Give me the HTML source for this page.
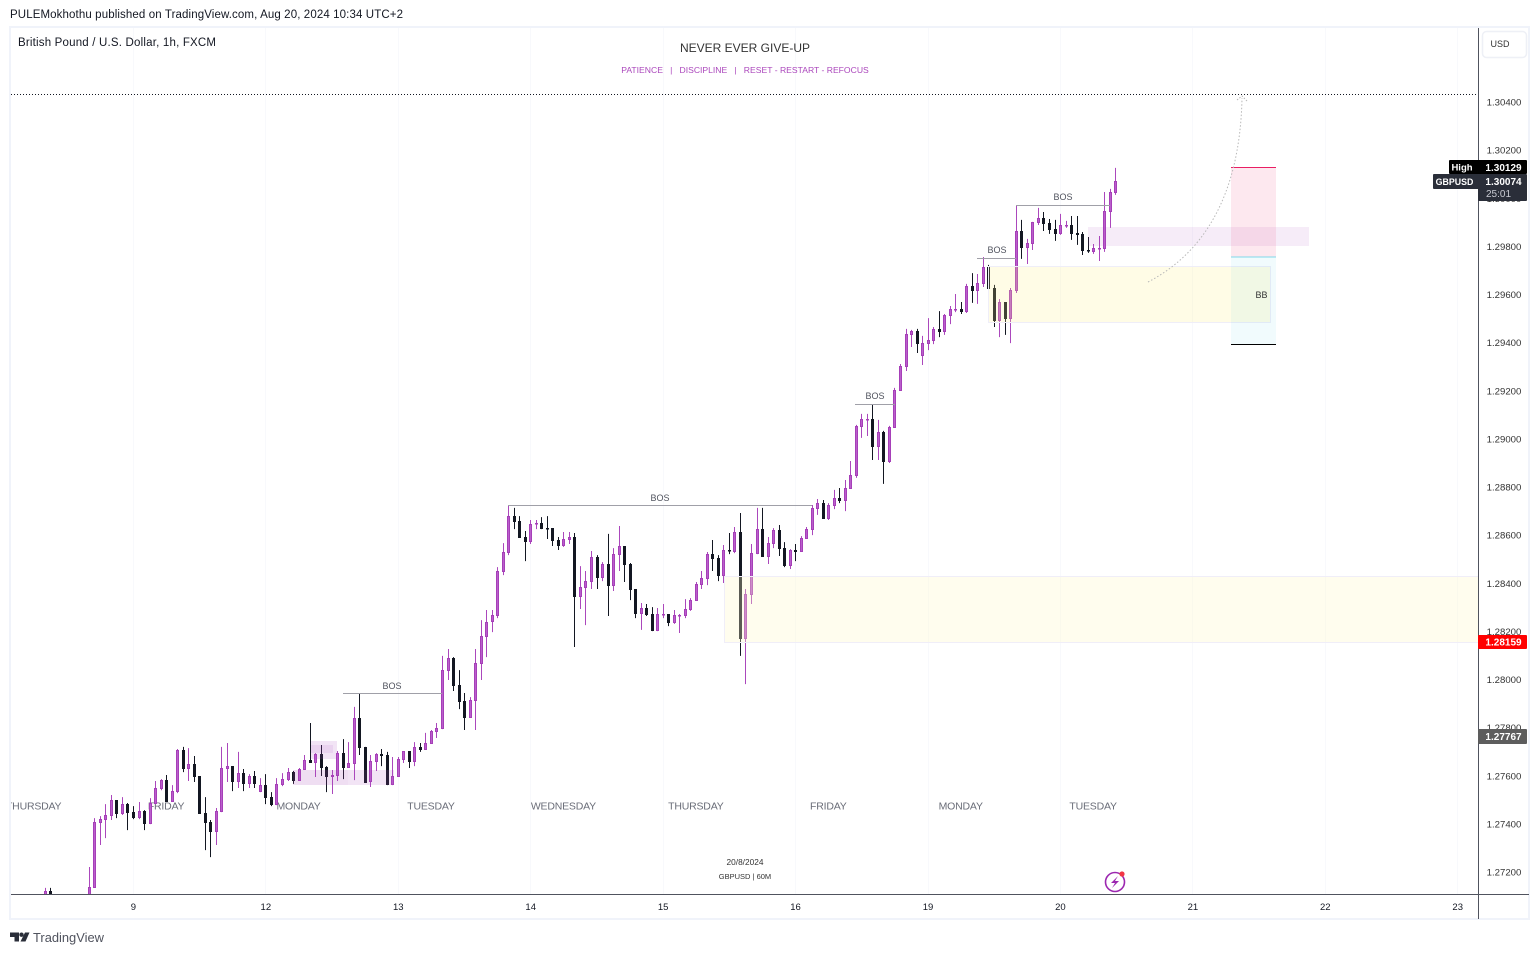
<!DOCTYPE html>
<html lang="en">
<head>
<meta charset="utf-8">
<title>GBPUSD 1h chart</title>
<style>
html,body{margin:0;padding:0;background:#fff;width:1540px;height:955px;overflow:hidden}
svg{display:block;font-family:"Liberation Sans",sans-serif}
</style>
</head>
<body>
<svg id="chart" xmlns="http://www.w3.org/2000/svg" width="1540" height="955" viewBox="0 0 1540 955">
  <defs><clipPath id="pane-clip"><rect x="11" y="28" width="1467" height="866"/></clipPath></defs>
  <text x="10" y="18" font-size="11.5" fill="#131722" textLength="393" lengthAdjust="spacing">PULEMokhothu published on TradingView.com, Aug 20, 2024 10:34 UTC+2</text>
  <rect x="10" y="27" width="1519" height="892" fill="#fff" stroke="#f0f3fa" stroke-width="2"/>
  <g id="grid"></g>
  <g id="weekdays" clip-path="url(#pane-clip)"></g>
  <g id="candles" clip-path="url(#pane-clip)"></g>

  <g clip-path="url(#pane-clip)">
    <rect x="724.5" y="576.5" width="760" height="66" fill="rgba(255,248,200,.3)" stroke="#f0eef8"/>
    <rect x="988.5" y="266.5" width="282" height="56" fill="rgba(255,240,130,.2)" stroke="#efeef8"/>
    <rect x="1088" y="227" width="221" height="19" fill="rgba(171,71,188,.1)"/>
    <rect x="293" y="770" width="101" height="15" fill="rgba(171,71,188,.15)"/>
    <rect x="293" y="770" width="55" height="15" fill="rgba(171,71,188,.04)"/>
    <rect x="311" y="741" width="26" height="18" fill="rgba(171,71,188,.15)"/>
    <rect x="311" y="745" width="22" height="8" fill="rgba(171,71,188,.1)"/>
    <rect x="1231" y="167" width="45" height="90" fill="rgba(233,30,99,.1)"/>
    <rect x="1231" y="257" width="45" height="87" fill="rgba(0,188,212,.055)"/>
    <line x1="1231" x2="1276" y1="167.5" y2="167.5" stroke="#e91e63"/>
    <line x1="1231" x2="1276" y1="257" y2="257" stroke="#80d8ea"/>
    <line x1="1231" x2="1276" y1="344.5" y2="344.5" stroke="#000"/>
    <text x="1261.500" y="298" font-size="9" text-anchor="middle" fill="#333">BB</text>

    <path d="M1148 282C1200 255 1240 200 1242 98" fill="none" stroke="#b8b8b8" stroke-width="1" stroke-dasharray="1.5 2"/>
    <path d="M1237 100L1242 96L1247 101" fill="none" stroke="#b8b8b8" stroke-width="1" stroke-dasharray="1.5 1.5"/>

    <line x1="11" x2="1478" y1="94.5" y2="94.5" stroke="#131722" stroke-dasharray="1 2"/>

    <line x1="343" x2="442" y1="693.5" y2="693.5" stroke="#a0a0a8"/>
    <text x="392" y="689" font-size="9" text-anchor="middle" fill="#50535e">BOS</text>
    <line x1="508" x2="812" y1="505.5" y2="505.5" stroke="#a0a0a8"/>
    <text x="660" y="501" font-size="9" text-anchor="middle" fill="#50535e">BOS</text>
    <line x1="855" x2="895" y1="404.5" y2="404.5" stroke="#a0a0a8"/>
    <text x="875" y="399" font-size="9" text-anchor="middle" fill="#50535e">BOS</text>
    <line x1="977" x2="1016" y1="258.5" y2="258.5" stroke="#a0a0a8"/>
    <text x="997" y="253" font-size="9" text-anchor="middle" fill="#50535e">BOS</text>
    <line x1="1016" x2="1110" y1="205.5" y2="205.5" stroke="#a0a0a8"/>
    <text x="1063" y="200" font-size="9" text-anchor="middle" fill="#50535e">BOS</text>
  </g>

  <text x="18" y="46" font-size="11.5" fill="#131722" textLength="198" lengthAdjust="spacing">British Pound / U.S. Dollar, 1h, FXCM</text>
  <text x="745" y="52" font-size="12" text-anchor="middle" fill="#333">NEVER EVER GIVE-UP</text>
  <text x="745" y="73" font-size="8.6" text-anchor="middle" fill="#ab47bc" xml:space="preserve">PATIENCE   |   DISCIPLINE   |   RESET - RESTART - REFOCUS</text>
  <text x="745" y="865" font-size="8.3" text-anchor="middle" fill="#333">20/8/2024</text>
  <text x="745" y="879" font-size="7.5" text-anchor="middle" fill="#333">GBPUSD | 60M</text>

  <g>
    <circle cx="1115" cy="882" r="9.5" fill="#fff" stroke="#9c27b0" stroke-width="1.6"/>
    <path d="M1118 876L1111 883H1115L1112 888L1119 881H1115Z" fill="#9c27b0"/>
    <circle cx="1122" cy="874" r="2.6" fill="#f23645"/>
  </g>

  <line x1="11" x2="1529" y1="894.5" y2="894.5" stroke="#50535e"/>
  <line x1="1478.5" x2="1478.5" y1="28" y2="919" stroke="#50535e"/>
  <g id="day-ticks"></g>
  <g id="price-ticks"></g>

  <rect x="1482.5" y="31.5" width="44" height="26" rx="4" fill="#fff" stroke="#eef0f6" stroke-width="1.5"/>
  <text x="1500" y="47" font-size="9" text-anchor="middle" fill="#333">USD</text>

  <rect x="1449" y="160" width="78" height="14" rx="1" fill="#000"/>
  <text x="1462" y="170.5" font-size="9.5" font-weight="bold" text-anchor="middle" fill="#fff">High</text>
  <text x="1503.500" y="171" font-size="10" font-weight="bold" text-anchor="middle" fill="#fff">1.30129</text>
  <rect x="1433" y="174" width="46" height="15" rx="1" fill="#2a2e39"/>
  <rect x="1478" y="174" width="49" height="27" rx="1" fill="#2a2e39"/>
  <text x="1454.500" y="185" font-size="8.8" font-weight="bold" text-anchor="middle" fill="#fff">GBPUSD</text>
  <text x="1503.500" y="185" font-size="10" font-weight="bold" text-anchor="middle" fill="#fff">1.30074</text>
  <text x="1498.500" y="197" font-size="10" text-anchor="middle" fill="#c8cad2">25:01</text>
  <rect x="1478" y="635" width="49" height="14" rx="1" fill="#ff0000"/>
  <text x="1503.500" y="645.5" font-size="10" font-weight="bold" text-anchor="middle" fill="#fff">1.28159</text>
  <rect x="1478" y="729" width="49" height="15" rx="1" fill="#5d5d5d"/>
  <text x="1503.500" y="740" font-size="10" font-weight="bold" text-anchor="middle" fill="#fff">1.27767</text>

  <g>
    <path d="M10 932.500h9v9h-4.500v-4.500H10z" fill="#2a2e39"/>
    <circle cx="21.500" cy="934.700" r="2.200" fill="#2a2e39"/>
    <path d="M25 932.500h4.500l-4 9H20.500z" fill="#2a2e39"/>
    <text x="33" y="942" font-size="12.900" fill="#50535e">TradingView</text>
  </g>
</svg>

<script>
// The first candle is 16 hours before the "9" day tick; candles are hourly.
const firstHour = -16;
const pointSize = 0.00001;
const opens = [
127083,127121,127083,127060,127050,127065,127055,127065,127083,127134,127403,127416,127432,127499,127441,127482,
127449,127424,127453,127399,127482,127545,127582,127491,127532,127707,
127628,127649,127599,127445,127407,127366,127449,127628,127640,127574,
127611,127566,127599,127532,127561,127511,127478,127561,127582,127615,
127578,127624,127665,127653,127690,127636,127595,127599,127694,127632,
127649,127840,127720,127574,127657,127690,127686,127561,127595,127665,
127703,127657,127720,127707,127732,127782,127794,128035,128089,127977,
127911,127840,127911,128064,128176,128239,128264,128447,128525,128679,
128659,128592,128571,128646,128650,128629,128629,128580,128555,128580,
128592,128342,128380,128405,128509,128422,128480,128388,128517,128555,
128480,128376,128272,128297,128272,128201,128268,128272,128235,128264,
128264,128289,128326,128392,128417,128521,128505,128430,128538,128530,
128613,128168,128351,128521,128625,128509,128563,128621,128546,128471,
128538,128530,128584,128621,128708,128733,128667,128721,128754,128742,
128792,128846,129050,129079,129083,128966,129029,128904,129046,129199,
129299,129432,129449,129344,129394,129407,129457,129444,129511,129536,
129540,129527,129635,129615,129644,129714,129627,129490,129569,129498,
129615,129864,129794,129810,129897,129918,129897,129872,129852,129885,
129889,129856,129852,129785,129777,129789,129789,129943,130022];
const highs = [
127134,127134,127090,127075,127070,127080,127070,127085,127221,127424,127432,127482,127520,127499,127511,127487,
127474,127491,127457,127507,127578,127586,127603,127561,127711,127720,
127715,127682,127599,127511,127416,127466,127720,127736,127640,127699,
127628,127607,127620,127590,127607,127532,127590,127611,127632,127620,
127632,127686,127819,127694,127728,127640,127624,127703,127752,127740,
127886,127940,127720,127686,127694,127711,127699,127678,127678,127703,
127703,127740,127736,127778,127790,127819,128098,128127,128093,128039,
127944,127927,128127,128247,128289,128289,128467,128567,128725,128713,
128679,128617,128663,128663,128675,128679,128629,128592,128613,128613,
128609,128471,128451,128534,128517,128488,128605,128546,128638,128555,
128484,128376,128318,128314,128301,128297,128314,128272,128289,128272,
128334,128338,128405,128451,128530,128580,128517,128559,128609,128634,
128692,128376,128563,128713,128713,128592,128629,128642,128571,128542,
128563,128596,128634,128725,128750,128746,128733,128788,128796,128829,
128908,129058,129104,129104,129141,129079,129033,129054,129212,129311,
129457,129453,129457,129428,129502,129465,129531,129519,129552,129602,
129569,129644,129689,129685,129756,129723,129640,129581,129569,129627,
129972,129910,129831,129902,129960,129943,129914,129910,129935,129906,
129926,129926,129860,129839,129810,129843,130026,130039,130126];
const lows = [
127041,127062,127050,127040,127030,127040,127035,127050,127062,127134,127312,127341,127416,127424,127437,127374,
127420,127420,127374,127399,127482,127540,127491,127491,127528,127615,
127578,127574,127441,127291,127262,127312,127449,127574,127536,127549,
127536,127549,127549,127532,127482,127474,127478,127557,127578,127566,
127578,127624,127653,127595,127599,127532,127524,127578,127586,127632,
127582,127686,127570,127553,127620,127640,127561,127561,127595,127653,
127632,127640,127699,127707,127732,127757,127794,127998,127952,127877,
127790,127840,127790,127998,128093,128197,128255,128434,128517,128625,
128588,128492,128563,128625,128625,128584,128555,128538,128551,128563,
128135,128293,128226,128376,128376,128409,128264,128368,128451,128405,
128330,128255,128206,128264,128201,128201,128255,128222,128231,128193,
128255,128285,128326,128376,128392,128451,128409,128401,128521,128525,
128098,127981,128314,128521,128509,128480,128546,128513,128467,128459,
128492,128530,128584,128600,128684,128667,128663,128708,128733,128700,
128792,128838,129004,129012,128912,128912,128813,128900,129046,129199,
129282,129382,129357,129307,129369,129394,129423,129432,129477,129527,
129519,129523,129565,129561,129631,129602,129465,129423,129432,129398,
129606,129748,129727,129785,129889,129864,129852,129823,129848,129877,
129827,129806,129764,129773,129769,129739,129777,129877,130014];
const closes = [
127121,127083,127060,127050,127065,127055,127065,127080,127138,127407,127420,127437,127499,127441,127482,127445,
127424,127453,127399,127487,127549,127582,127491,127536,127707,127628,
127649,127595,127441,127403,127366,127453,127632,127640,127574,127611,
127566,127599,127566,127561,127507,127478,127566,127586,127615,127578,
127628,127665,127653,127690,127632,127595,127603,127694,127632,127653,
127840,127715,127570,127661,127690,127682,127561,127599,127669,127703,
127657,127720,127707,127736,127786,127798,128039,128089,127973,127906,
127840,127915,128069,128180,128239,128268,128451,128530,128679,128654,
128588,128571,128646,128650,128625,128625,128576,128555,128584,128592,
128342,128384,128409,128509,128422,128480,128388,128521,128555,128476,
128372,128272,128297,128268,128201,128272,128272,128235,128268,128268,
128293,128330,128397,128422,128521,128500,128430,128538,128534,128613,
128168,128355,128525,128625,128509,128567,128621,128542,128471,128538,
128530,128588,128625,128713,128733,128667,128725,128754,128742,128796,
128850,129054,129083,129083,128966,129029,128904,129050,129204,129303,
129436,129449,129394,129398,129411,129457,129444,129515,129540,129540,
129527,129635,129615,129648,129714,129623,129490,129569,129498,129619,
129864,129794,129814,129902,129918,129893,129868,129852,129889,129889,
129852,129848,129781,129781,129794,129794,129947,130026,130072];
const priceTicks = ['1.30400','1.30200','1.30000','1.29800','1.29600','1.29400','1.29200','1.29000','1.28800','1.28600','1.28400','1.28200','1.28000','1.27800','1.27600','1.27400','1.27200'];
const dayLabels = ['9','12','13','14','15','16','19','20','21','22','23'];
const weekdayLabels = ['THURSDAY','FRIDAY','MONDAY','TUESDAY','WEDNESDAY','THURSDAY','FRIDAY','MONDAY','TUESDAY'];

const SVG_NS = 'http://www.w3.org/2000/svg';
const hourWidth = 5.518;
const pricePixels = 24062.5;
function xAxis(hour) { return 133 + hour * hourWidth; }
function yAxis(price) { return 102 + (1.304 - price) * pricePixels; }
function make(tag, parent, attrs) {
  const el = document.createElementNS(SVG_NS, tag);
  for (const k in attrs) el.setAttribute(k, attrs[k]);
  parent.appendChild(el);
  return el;
}

const gridGroup = document.getElementById('grid');
const dayGroup = document.getElementById('day-ticks');
dayLabels.forEach(function (label, i) {
  const x = Math.round(xAxis(i * 24));
  const gridLine = make('line', gridGroup, { x1: x + 0.5, x2: x + 0.5, y1: 28, y2: 894, stroke: '#f8f9fc' });
  
  
  const t = make('text', dayGroup, { x: xAxis(i * 24) + 0.4, y: 910, 'font-size': 9.5, 'text-anchor': 'middle', fill: '#131722' });
  t.textContent = label;
  
  
});

const weekdayGroup = document.getElementById('weekdays');
weekdayLabels.forEach(function (label, i) {
  const t = make('text', weekdayGroup, { x: xAxis(-18 + i * 24), y: 809.5, 'font-size': 10.5, 'letter-spacing': -0.2, 'text-anchor': 'middle', fill: '#6a6d78' });
  t.textContent = label;
  
  
});

const priceGroup = document.getElementById('price-ticks');
priceTicks.forEach(function (label) {
  const t = make('text', priceGroup, { x: 1504, y: yAxis(parseFloat(label)) + 3.5, 'font-size': 9.6, 'text-anchor': 'middle', fill: '#333' });
  t.textContent = label;
  
  
});

const candleGroup = document.getElementById('candles');
opens.forEach(function (open, i) {
  const o = open * pointSize;
  const h = highs[i] * pointSize;
  const l = lows[i] * pointSize;
  const c = closes[i] * pointSize;
  const up = c >= o;
  const X = Math.round(xAxis(firstHour + i));
  const wick = make('line', candleGroup, { x1: X + 0.5, x2: X + 0.5, y1: yAxis(h), y2: yAxis(l), stroke: up ? '#ab47bc' : '#131722', 'stroke-width': 1 });
  
  
  const top = Math.round(yAxis(Math.max(o, c)));
  const bottom = Math.round(yAxis(Math.min(o, c)));
  const body = make('rect', candleGroup, {
    x: X - 0.5, y: top + 0.5, width: 2, height: Math.max(0.5, bottom - top - 1),
    fill: up ? '#ba5fcc' : '#131722', stroke: up ? '#a63fb8' : '#131722', 'stroke-width': 1
  });
  
  
});
</script>
</body>
</html>
